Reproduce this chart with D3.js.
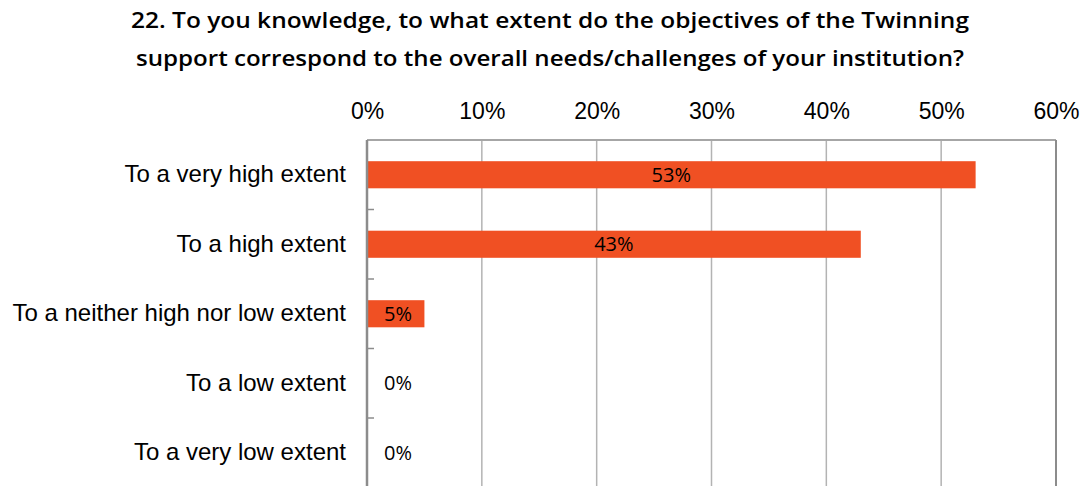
<!DOCTYPE html>
<html><head><meta charset="utf-8">
<script src="https://cdn.jsdelivr.net/npm/d3@7"></script>
<style>body{margin:0;background:#fff;}svg{display:block;}</style>
</head><body>
<svg id="c" width="1081" height="486"></svg>
<script>
const categories = ["To a very high extent","To a high extent","To a neither high nor low extent","To a low extent","To a very low extent"];
const values = [53, 43, 5, 0, 0];
const xTicks = [0,10,20,30,40,50,60];
const titleLines = ["22. To you knowledge, to what extent do the objectives of the Twinning","support correspond to the overall needs/challenges of your institution?"];

(function(){
const svg = d3.select("#c");
const pL = 367, pR = 1056, pT = 140, pB = 487.5;
const x = d3.scaleLinear().domain([0,60]).range([pL,pR]);
const y = d3.scaleBand().domain(categories).range([pT,pB]).paddingInner(0.61).paddingOuter(0.305);

// title
const tl = svg.append("g").selectAll("text").data(titleLines).join("text")
  .attr("x", 550).attr("y",(d,i)=>28+i*38)
  .attr("text-anchor","middle")
  .attr("font-family","Open Sans").attr("font-weight",600).attr("font-size",22)
  .attr("fill","#000").text(d=>d);
const tw = [838, 828];
tl.each(function(d,i){
  const w = this.getComputedTextLength();
  if (Math.abs(w - tw[i]) > 4) { d3.select(this).attr("textLength", tw[i]).attr("lengthAdjust","spacingAndGlyphs"); }
});

// gridlines
svg.append("g").selectAll("line").data(xTicks.slice(1,-1)).join("line")
  .attr("x1",d=>x(d)).attr("x2",d=>x(d)).attr("y1",pT).attr("y2",pB)
  .attr("stroke","#b3b3b3").attr("stroke-width",1.5);
svg.append("line").attr("x1",pL).attr("x2",pR).attr("y1",pT).attr("y2",pT).attr("stroke","#a6a6a6").attr("stroke-width",2);
svg.append("line").attr("x1",pR).attr("x2",pR).attr("y1",pT).attr("y2",pB).attr("stroke","#8c8c8c").attr("stroke-width",2);

// x axis top
const xa = svg.append("g").attr("transform",`translate(0,${pT})`)
  .call(d3.axisTop(x).tickValues(xTicks).tickFormat(d=>d+"%").tickSize(0).tickPadding(21));
xa.select(".domain").remove();
xa.selectAll("text").attr("font-family","Liberation Sans, Arial").attr("font-size",23).attr("fill","#000");

// bars
svg.append("g").selectAll("rect").data(values).join("rect")
  .attr("x",x(0)).attr("y",(d,i)=>y(categories[i]))
  .attr("width",d=>x(d)-x(0)).attr("height",y.bandwidth())
  .attr("fill","#f05023");

// y axis
const ya = svg.append("g").attr("transform",`translate(${pL},0)`)
  .call(d3.axisLeft(y).tickSize(0).tickPadding(21));
ya.select(".domain").remove();
ya.selectAll("text").attr("font-family","Liberation Sans, Arial").attr("font-size",24).attr("fill","#000");
svg.append("line").attr("x1",pL).attr("x2",pL).attr("y1",pT).attr("y2",pB).attr("stroke","#8c8c8c").attr("stroke-width",2.5);
const step = y.step();
svg.append("g").selectAll("line").data(d3.range(1,categories.length)).join("line")
  .attr("x1",pL).attr("x2",pL+7)
  .attr("y1",i=>pT+i*step).attr("y2",i=>pT+i*step)
  .attr("stroke","#8c8c8c").attr("stroke-width",1.5);

// data labels
svg.append("g").selectAll("text").data(values).join("text")
  .attr("x",d=>Math.max((x(d)+x(0))/2, x(0)+31))
  .attr("y",(d,i)=>y(categories[i])+y.bandwidth()/2)
  .attr("dy","0.36em").attr("text-anchor","middle")
  .attr("font-family","Open Sans").attr("font-size",20).attr("fill","#000")
  .text(d=>d+"%");
})();
</script>
</body></html>
